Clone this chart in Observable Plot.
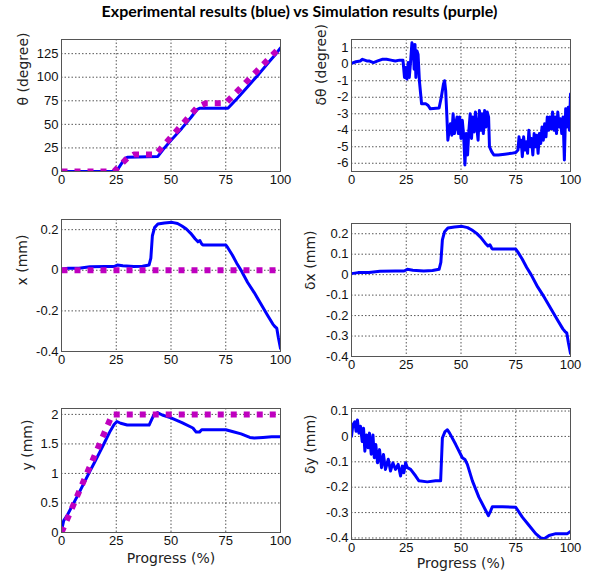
<!DOCTYPE html>
<html><head><meta charset="utf-8">
<script src="https://cdn.jsdelivr.net/npm/d3@7"></script>
<script src="https://cdn.jsdelivr.net/npm/@observablehq/plot@0.6"></script>
<style>
body{margin:0;background:#fff;}
#root{position:relative;width:595px;height:577px;overflow:hidden;background:#fff;}
.panel{position:absolute;}
.panel svg{display:block;overflow:visible;font-family:"Liberation Sans",Arial,sans-serif !important;font-size:13px !important;background:transparent !important;}
#title{position:absolute;left:2px;top:1px;width:595px;text-align:center;font-family:Lato;font-weight:bold;font-size:16px;color:#000;white-space:nowrap;}
</style></head><body>
<div id="root"><div id="title">Experimental results (blue) vs Simulation results (purple)</div></div>
<script>
// ---------- data ----------
const progressTicks = [0, 25, 50, 75, 100];
const thetaTicks = [0, 25, 50, 75, 100, 125];
const dThetaTicks = [-6, -5, -4, -3, -2, -1, 0, 1];
const xTicks = [-0.4, -0.2, 0, 0.2];
const dxTicks = [-0.4, -0.3, -0.2, -0.1, 0, 0.1, 0.2];
const yTicks = [0, 0.5, 1, 1.5, 2];
const dyTicks = [-0.4, -0.3, -0.2, -0.1, 0, 0.1];

const thetaExp = [[0,0],[25,0],[27,7],[29,14],[30,15],[44,16],[47,25],[50,33],[55,46],[59,57],[62,66],[63,67],[76,67],[80,77],[85,90],[90,103],[95,117],[98,125],[100,131]];
const thetaSim = [[0,0],[24,0],[26,5],[30,14],[33,18],[43,18],[62,68],[66,72.5],[75,72.5],[99,130]];

const dThetaExp = [[0,0.05],[2,0.15],[4,0.2],[5,0.3],[7,0.2],[8,0.2],[10,0.1],[12,0.2],[14,0.3],[16,0.3],[18,0.25],[20,0.2],[22,0.25],[23.5,0.25],[24.2,-0.8],[24.8,-0.2],[25.3,-0.9],[25.9,0.1],[26.4,-0.8],[27,0.2],[27.6,1.3],[28.2,1.0],[28.6,-0.3],[29,1.2],[29.4,-0.8],[29.9,0.8],[30.4,0.6],[31,-1],[32,-2.4],[34,-2.4],[35,-2.5],[36,-2.7],[40,-2.65],[41,-2.0],[42,-1.2],[42.5,-1.0],[43,-1.6],[43.5,-3.0],[44,-4.6],[44.6,-4.0],[45.2,-3.6],[45.8,-4.3],[46.4,-3.0],[47,-4.2],[47.6,-3.6],[48.2,-3.2],[48.8,-4.2],[49.4,-3.2],[50,-4.5],[50.6,-3.4],[51.2,-4.3],[51.8,-6.1],[52.4,-4.2],[53,-5.5],[53.6,-4.0],[54.2,-3.0],[54.8,-4.5],[55.4,-3.2],[56,-4.1],[56.6,-2.9],[57.2,-3.8],[57.8,-4.6],[58.4,-2.8],[59,-4.0],[59.6,-3.0],[60.2,-4.2],[60.8,-2.8],[61.4,-3.8],[62,-2.9],[62.6,-3.2],[63,-5.0],[64,-5.3],[65,-5.5],[67,-5.5],[70,-5.45],[73,-5.4],[75,-5.35],[76,-5.2],[76.5,-4.4],[77,-5.0],[77.5,-4.6],[78,-5.6],[78.6,-4.4],[79.2,-5.2],[79.8,-4.7],[80.4,-5.4],[81,-4.0],[81.6,-5.0],[82.2,-4.5],[82.8,-5.5],[83.4,-4.2],[84,-5.0],[84.6,-4.3],[85.2,-5.4],[85.8,-4.2],[86.4,-4.8],[87,-3.8],[87.6,-4.6],[88.2,-3.6],[88.8,-4.4],[89.4,-3.2],[90,-4.0],[90.6,-3.2],[91.2,-3.9],[91.8,-2.9],[92.4,-4.0],[93,-3.2],[93.6,-4.2],[94.2,-2.9],[94.8,-3.8],[95.4,-3.3],[96,-4.2],[96.6,-3.2],[97.2,-5.8],[97.8,-2.7],[98.4,-3.8],[99,-2.6],[99.5,-4.0],[100,-1.8]];

const xExp = [[0,0.005],[3,0.01],[8,0.01],[13,0.017],[20,0.018],[24,0.018],[25.5,0.026],[28,0.022],[33,0.018],[37,0.02],[40,0.026],[40.8,0.06],[41.5,0.17],[42.5,0.21],[44,0.228],[47,0.233],[50.5,0.236],[53,0.23],[55,0.218],[57,0.203],[59,0.182],[61,0.155],[62.3,0.14],[63.2,0.146],[64,0.13],[64.5,0.125],[75,0.125],[76,0.11],[78,0.075],[80,0.035],[82,0.0],[85,-0.06],[88,-0.11],[91,-0.165],[94,-0.22],[96.5,-0.265],[97.5,-0.278],[98.3,-0.285],[99,-0.33],[100,-0.385]];
const xSim = [[0,0],[100,0]];

const dxExp = [[0,0.005],[3,0.01],[8,0.01],[13,0.017],[20,0.018],[24,0.018],[25.5,0.026],[28,0.022],[33,0.018],[37,0.02],[40,0.026],[40.8,0.06],[41.5,0.17],[42.5,0.21],[44,0.228],[47,0.233],[50.5,0.236],[53,0.23],[55,0.218],[57,0.203],[59,0.182],[61,0.155],[62.3,0.14],[63.2,0.146],[64,0.13],[64.5,0.125],[75,0.125],[76,0.11],[78,0.075],[80,0.035],[82,0.0],[85,-0.06],[88,-0.11],[91,-0.165],[94,-0.22],[96.5,-0.265],[97.5,-0.278],[98.3,-0.285],[99,-0.33],[100,-0.385]];

const yExp = [[0,0.03],[1,0.2],[2.6,0.29],[5,0.46],[8,0.67],[10,0.82],[13,1.04],[15,1.18],[18,1.4],[20,1.55],[22,1.7],[24,1.83],[25.3,1.88],[27,1.85],[30,1.82],[35,1.82],[40,1.82],[41,1.9],[42,1.98],[43.8,2.03],[46,1.99],[50,1.94],[55,1.86],[60,1.77],[61.5,1.7],[63,1.7],[64,1.74],[66,1.74],[75,1.74],[78,1.71],[82,1.67],[86,1.61],[88,1.6],[92,1.61],[96,1.62],[100,1.62]];
const ySim = [[0,0],[23.2,2],[100,2]];

const dyExp = [[0,0],[0.6,0.045],[1.5,0.058],[2.1,0.02],[2.7,0.065],[3.4,0.013],[4.1,0.04],[4.9,-0.02],[5.5,0.032],[6.1,-0.058],[6.9,0.006],[7.6,-0.045],[8.2,0.013],[9,-0.07],[9.8,0.006],[10.4,-0.084],[11.1,-0.032],[11.9,-0.104],[12.8,-0.052],[13.7,-0.123],[14.6,-0.071],[15.5,-0.13],[16.8,-0.09],[17.8,-0.136],[18.9,-0.104],[20.1,-0.13],[21.3,-0.11],[22.4,-0.156],[23.2,-0.117],[23.9,-0.143],[24.7,-0.104],[25.5,-0.123],[27,-0.13],[29.3,-0.156],[30.8,-0.175],[34.6,-0.179],[38.4,-0.175],[40.7,-0.175],[41.5,-0.006],[42.7,0.019],[43.8,0.026],[44.8,0.013],[47.6,-0.032],[50.6,-0.084],[51.8,-0.091],[52.9,-0.11],[55.2,-0.175],[58.2,-0.24],[61.3,-0.292],[62.5,-0.312],[63.6,-0.292],[64.3,-0.277],[68.9,-0.277],[75,-0.279],[78,-0.318],[81.1,-0.351],[84.1,-0.383],[86.4,-0.4],[88,-0.403],[90.2,-0.39],[93.3,-0.383],[96.3,-0.383],[98.6,-0.383],[100,-0.374]];

// ---------- drawing ----------
const BLUE = "#0000ff";
const PURPLE = "#bf00bf";
const fmt = d => String(+(+d).toFixed(2));

function panel(o) {
  const marks = [
    Plot.gridX(progressTicks, {stroke: "#222", strokeOpacity: 0.85, strokeWidth: 0.9, strokeDasharray: "1.5,2"}),
    Plot.gridY(o.yTicks, {stroke: "#222", strokeOpacity: 0.85, strokeWidth: 0.9, strokeDasharray: "1.5,2"}),
    Plot.axisX(progressTicks, {tickSize: 0, tickPadding: 3, tickFormat: fmt, label: null, fill: "#111"}),
    Plot.axisY(o.yTicks, {tickSize: 0, tickPadding: 3, tickFormat: fmt, label: null, fill: "#111"}),
    Plot.line(o.exp, {x: d => d[0], y: d => d[1], stroke: BLUE, strokeWidth: 3, clip: true, strokeLinejoin: "round"})
  ];
  if (o.sim) marks.push(Plot.line(o.sim, {x: d => d[0], y: d => d[1], stroke: PURPLE, strokeWidth: 6, strokeDasharray: "6,7", strokeLinecap: "butt", clip: true}));
  marks.push(Plot.frame({stroke: "#555", strokeWidth: 1}));
  marks.push(Plot.text([o.yLabel], {text: d => d, frameAnchor: "left", dx: o.labelDx, rotate: -90, fontSize: 14, fontFamily: "DejaVu Sans", fill: "#222"}));
  if (o.xLabel) marks.push(Plot.text([o.xLabel], {text: d => d, frameAnchor: "bottom", dy: o.xLabelDy, fontSize: 14, fontFamily: "DejaVu Sans", fill: "#222"}));
  const chart = Plot.plot({
    width: o.width, height: o.height,
    marginTop: o.mt, marginRight: o.mr, marginBottom: o.mb, marginLeft: o.ml,
    x: {domain: [0, 100]},
    y: {domain: o.yDomain},
    marks
  });
  const div = document.createElement("div");
  div.className = "panel";
  div.style.left = o.left + "px";
  div.style.top = o.top + "px";
  div.appendChild(chart);
  document.getElementById("root").appendChild(div);
}

// left column: svg x 0..295, frame x 61..280 ; right column: svg x 295..595, frame x 351..570
panel({left: 0, top: 25, width: 295, height: 175, mt: 14, mb: 29, ml: 61, mr: 15, yDomain: [0, 140], yTicks: thetaTicks, exp: thetaExp, sim: thetaSim, yLabel: "θ (degree)", labelDx: -38});
panel({left: 295, top: 25, width: 300, height: 175, mt: 14, mb: 29, ml: 56, mr: 25, yDomain: [-6.5, 1.5], yTicks: dThetaTicks, exp: dThetaExp, yLabel: "δθ (degree)", labelDx: -30});
panel({left: 0, top: 200, width: 295, height: 185, mt: 19, mb: 34, ml: 61, mr: 15, yDomain: [-0.4, 0.25], yTicks: xTicks, exp: xExp, sim: xSim, yLabel: "x (mm)", labelDx: -39});
panel({left: 295, top: 200, width: 300, height: 187, mt: 23, mb: 31, ml: 56, mr: 25, yDomain: [-0.4, 0.25], yTicks: dxTicks, exp: dxExp, yLabel: "δx (mm)", labelDx: -41});
panel({left: 0, top: 385, width: 295, height: 192, mt: 23, mb: 45, ml: 61, mr: 15, yDomain: [0, 2.1], yTicks: yTicks, exp: yExp, sim: ySim, yLabel: "y (mm)", labelDx: -34, xLabel: "Progress (%)", xLabelDy: 30});
panel({left: 295, top: 387, width: 300, height: 190, mt: 21, mb: 38, ml: 56, mr: 25, yDomain: [-0.406, 0.11], yTicks: dyTicks, exp: dyExp, yLabel: "δy (mm)", labelDx: -41, xLabel: "Progress (%)", xLabelDy: 28});
</script>
</body></html>
